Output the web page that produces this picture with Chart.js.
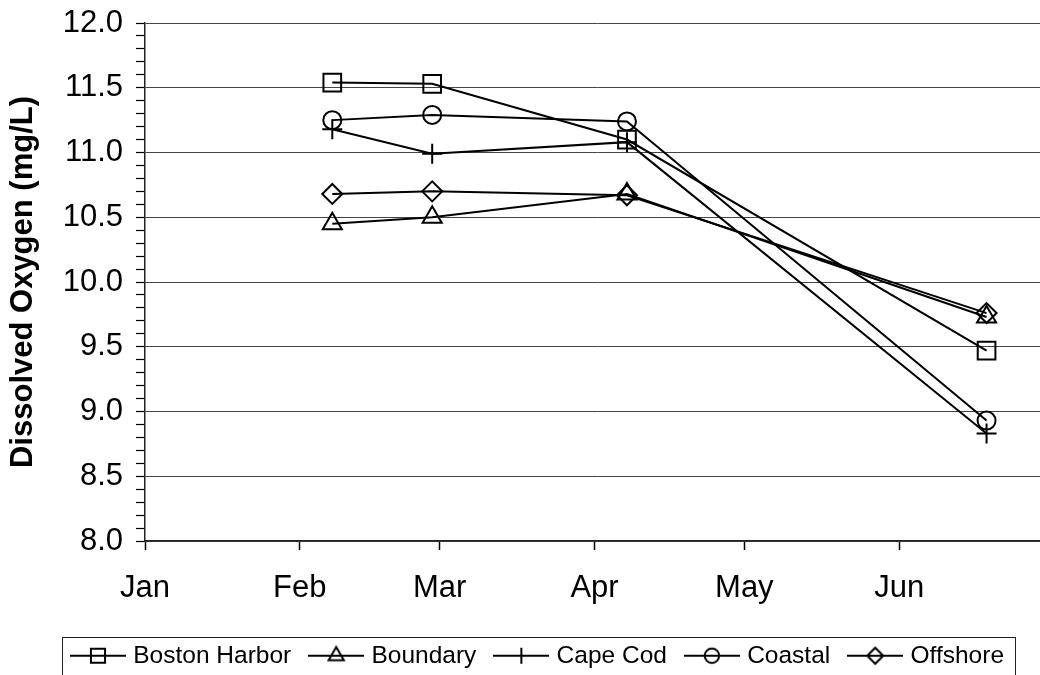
<!DOCTYPE html>
<html>
<head>
<meta charset="utf-8">
<title>Dissolved Oxygen</title>
<script src="https://cdn.jsdelivr.net/npm/chart.js@4.4.1/dist/chart.umd.min.js"></script>
<style>
  html, body { margin: 0; padding: 0; background: #fff; overflow: hidden; }
  #wrap { position: relative; width: 1079px; height: 678px; }
</style>
</head>
<body>
<div id="wrap"><canvas id="chart"></canvas></div>
<script>
// Survey dates (month-day) and dissolved oxygen readings, mg/L
const sampleDates = ['02-07', '02-27', '04-07', '06-18'];
const seriesNames = ['Boston Harbor', 'Boundary', 'Cape Cod', 'Coastal', 'Offshore'];
const bostonHarbor = [11.54, 11.53, 11.10, 9.47];
const boundary     = [10.45, 10.50, 10.68, 9.73];
const capeCod      = [11.18, 10.99, 11.08, 8.83];
const coastal      = [11.25, 11.29, 11.24, 8.93];
const offshore     = [10.68, 10.70, 10.67, 9.76];
const monthLabels  = ['Jan', 'Feb', 'Mar', 'Apr', 'May', 'Jun', ''];
const yTickLabels  = ['8.0', '8.5', '9.0', '9.5', '10.0', '10.5', '11.0', '11.5', '12.0'];

const FONT = "'Liberation Sans', Arial, Helvetica, sans-serif";

// day-of-year helpers (non-leap year, Jan 1 = 0)
function dayOfYear(m, d) {
  return (Date.UTC(2001, m - 1, d) - Date.UTC(2001, 0, 1)) / 864e5;
}
const sampleX = sampleDates.map(s => {
  const [m, d] = s.split('-').map(Number);
  return dayOfYear(m, d) + 0.5;
});
const monthStarts = monthLabels.map((_, i) => dayOfYear(i + 1, 1));

const seriesValues = [bostonHarbor, boundary, capeCod, coastal, offshore];
const markerStyles = [
  { style: 'rect', radius: 12.5 },
  { style: 'triangle', radius: 11 },
  { style: 'cross', radius: 10 },
  { style: 'circle', radius: 9 },
  { style: 'rectRot', radius: 10 }
];

// small "line through marker" glyphs for the legend
function legendSymbol(m) {
  const c = document.createElement('canvas');
  c.width = 56; c.height = 24;
  const g = c.getContext('2d');
  g.strokeStyle = '#000';
  g.lineWidth = 2;
  g.beginPath();
  g.moveTo(0, 12); g.lineTo(56, 12);
  g.stroke();
  g.fillStyle = 'rgba(0,0,0,0)';
  Chart.helpers.drawPoint(g, { pointStyle: m.style, radius: m.radius * 0.8, borderWidth: 2, rotation: 0 }, 28, 12);
  return c;
}
const legendSymbols = markerStyles.map(legendSymbol);

const datasets = seriesNames.map((name, i) => ({
  label: name,
  data: seriesValues[i].map((v, j) => ({ x: sampleX[j], y: v })),
  borderColor: '#000',
  borderWidth: 2,
  backgroundColor: 'rgba(0,0,0,0)',
  tension: 0,
  pointStyle: markerStyles[i].style,
  pointRadius: markerStyles[i].radius,
  pointHoverRadius: markerStyles[i].radius,
  pointBorderWidth: 2,
  pointBorderColor: '#000',
  pointBackgroundColor: 'rgba(0,0,0,0)'
}));

const isMajorY = v => Math.round(v * 10) % 5 === 0;

// box drawn around the legend row
const legendFrame = {
  id: 'legendFrame',
  afterDraw(chart) {
    const boxes = chart.legend && chart.legend.legendHitBoxes;
    if (!boxes || !boxes.length) return;
    const ctx = chart.ctx;
    const first = boxes[0], last = boxes[boxes.length - 1];
    const cy = first.top + first.height / 2;
    const l = Math.round(first.left - 13) + 0.5;
    const r = Math.round(last.left + last.width + 11) + 0.5;
    const t = Math.round(cy - 19) + 0.5;
    const b = Math.round(cy + 19) + 0.5;
    ctx.save();
    ctx.strokeStyle = '#222';
    ctx.lineWidth = 1;
    ctx.strokeRect(l, t, r - l, b - t);
    ctx.restore();
  }
};

new Chart(document.getElementById('chart'), {
  type: 'line',
  data: { datasets },
  plugins: [legendFrame],
  options: {
    responsive: true,
    maintainAspectRatio: false,
    animation: false,
    devicePixelRatio: 1,
    layout: { padding: { top: 23, right: 0, bottom: 0, left: 0 } },
    plugins: {
      tooltip: { enabled: false },
      legend: {
        position: 'bottom',
        labels: {
          usePointStyle: true,
          pointStyleWidth: 46,
          padding: 22,
          color: '#000',
          font: { family: FONT, size: 24.5 },
          generateLabels(chart) {
            const items = Chart.defaults.plugins.legend.labels.generateLabels(chart);
            items.forEach((it, i) => { it.pointStyle = legendSymbols[i]; });
            return items;
          }
        }
      }
    },
    scales: {
      x: {
        type: 'linear',
        min: monthStarts[0],
        max: monthStarts[monthStarts.length - 1],
        afterBuildTicks(scale) {
          scale.ticks = monthStarts.map(v => ({ value: v }));
        },
        afterFit(scale) { scale.height = 80.5; },
        ticks: {
          autoSkip: false,
          maxRotation: 0,
          padding: 20,
          color: '#000',
          font: { family: FONT, size: 31 },
          callback(value) {
            const i = monthStarts.indexOf(value);
            return i >= 0 ? monthLabels[i] : '';
          }
        },
        grid: {
          drawOnChartArea: false,
          drawTicks: true,
          tickLength: 9,
          tickWidth: 1.5,
          tickColor: '#000'
        },
        border: { display: true, color: '#222', width: 1.5 }
      },
      y: {
        type: 'linear',
        min: 8,
        max: 12,
        afterFit(scale) {
          scale.width = 145;
          scale.paddingTop = 0;
          scale.paddingBottom = 0;
        },
        ticks: {
          stepSize: 0.1,
          autoSkip: false,
          padding: 13,
          color: '#000',
          font: { family: FONT, size: 31 },
          callback(value) {
            if (!isMajorY(value)) return '';
            return yTickLabels[Math.round((value - 8) * 2)];
          }
        },
        grid: {
          color: c => isMajorY(c.tick.value) ? '#444' : 'rgba(0,0,0,0)',
          lineWidth: 1,
          tickLength: 9,
          tickColor: '#000',
          tickWidth: 1.2
        },
        border: { display: true, color: '#222', width: 1.5 },
        title: {
          display: true,
          text: 'Dissolved Oxygen (mg/L)',
          color: '#000',
          font: { family: FONT, size: 31, weight: 'bold' },
          padding: { top: 5, bottom: 0 }
        }
      },
      // blank margin on the right of the plot
      yRight: {
        type: 'linear',
        position: 'right',
        min: 8,
        max: 12,
        afterFit(scale) {
          scale.width = 30;
          scale.paddingTop = 0;
          scale.paddingBottom = 0;
        },
        grid: { display: false, drawTicks: false },
        ticks: { display: false },
        border: { display: false }
      }
    }
  }
});
</script>
</body>
</html>
